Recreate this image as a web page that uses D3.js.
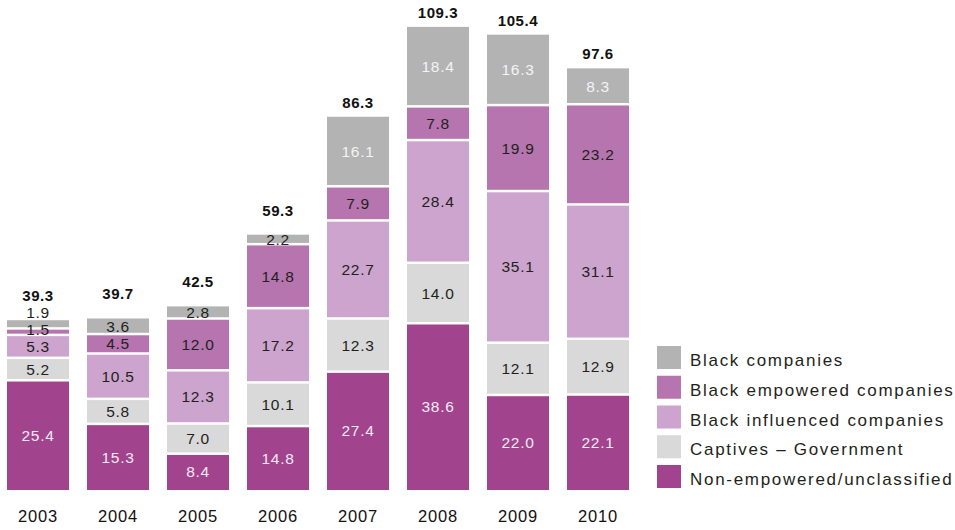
<!DOCTYPE html>
<html>
<head>
<meta charset="utf-8">
<script src="https://cdn.jsdelivr.net/npm/d3@7"></script>
<style>
  html, body { margin: 0; padding: 0; background: #ffffff; }
  svg { display: block; }
  text { font-family: "Liberation Sans", Arial, Helvetica, sans-serif; }
</style>
</head>
<body>
<svg id="chart" width="955" height="530"></svg>
<script>
// Procurement spend by supplier type, 2003-2010
const years        = ["2003", "2004", "2005", "2006", "2007", "2008", "2009", "2010"];
const nonEmpowered = [25.4, 15.3, 8.4, 14.8, 27.4, 38.6, 22.0, 22.1];
const captives     = [5.2, 5.8, 7.0, 10.1, 12.3, 14.0, 12.1, 12.9];
const influenced   = [5.3, 10.5, 12.3, 17.2, 22.7, 28.4, 35.1, 31.1];
const empowered    = [1.5, 4.5, 12.0, 14.8, 7.9, 7.8, 19.9, 23.2];
const blackOwned   = [1.9, 3.6, 2.8, 2.2, 16.1, 18.4, 16.3, 8.3];
const totals       = [39.3, 39.7, 42.5, 59.3, 86.3, 109.3, 105.4, 97.6];

const seriesNames = [
  "Non-empowered/unclassified",
  "Captives \u2013 Government",
  "Black influenced companies",
  "Black empowered companies",
  "Black companies"
];
const seriesValues = [nonEmpowered, captives, influenced, empowered, blackOwned];

const keys = ["nonEmpowered", "captives", "influenced", "empowered", "blackOwned"];
const fills = {
  nonEmpowered: "#a1438d",
  captives:     "#d9d9d9",
  influenced:   "#cca4cd",
  empowered:    "#b675ae",
  blackOwned:   "#b3b3b3"
};
const labelInk = {
  nonEmpowered: "#f6eaf3",
  captives:     "#231f20",
  influenced:   "#231f20",
  empowered:    "#231f20",
  blackOwned:   "#231f20"
};

const rows = years.map((y, i) => {
  const r = { year: y, total: totals[i] };
  keys.forEach((k, j) => { r[k] = seriesValues[j][i]; });
  return r;
});

const svg = d3.select("#chart");

const baseY = 490;
const x = d3.scaleBand().domain(years).range([7, 629]).paddingInner(0.225).paddingOuter(0);
const y = d3.scaleLinear().domain([0, 110]).range([baseY, baseY - 110 * 4.32]);
const gap = 2.5;

const stacked = d3.stack().keys(keys)(rows);

// segments
stacked.forEach((layer, li) => {
  const key = layer.key;
  const g = svg.append("g").attr("class", "series-" + key);
  layer.forEach(d => {
    const top = y(d[1]) + (li === keys.length - 1 ? 0 : gap / 2);
    const bottom = y(d[0]) - (li === 0 ? 0 : gap / 2);
    g.append("rect")
      .attr("x", x(d.data.year))
      .attr("y", top)
      .attr("width", x.bandwidth())
      .attr("height", Math.max(0, bottom - top))
      .attr("fill", fills[key]);
  });
});

// segment value labels, nudged upward when thin segments crowd together
const minLabelGap = 17;
years.forEach((yr, i) => {
  let prevCenter = Infinity;
  stacked.forEach((layer, li) => {
    const d = layer[i];
    const key = layer.key;
    let c = (y(d[0]) + y(d[1])) / 2;
    if (prevCenter - c < minLabelGap) c = prevCenter - minLabelGap;
    prevCenter = c;
    const v = d[1] - d[0];
    let ink = labelInk[key];
    if (key === "blackOwned" && v > 5) ink = "#f4f4f4";
    svg.append("text")
      .attr("x", x(yr) + x.bandwidth() / 2)
      .attr("y", c)
      .attr("dy", "0.36em")
      .attr("text-anchor", "middle")
      .attr("font-size", 15.5)
      .attr("letter-spacing", 0.7)
      .attr("fill", ink)
      .text(d3.format(".1f")(v));
  });
});

// totals above each bar
rows.forEach((r, i) => {
  const top = y(stacked[keys.length - 1][i][1]);
  const lift = blackOwned[i] < 5 ? 19 : 9;
  svg.append("text")
    .attr("x", x(r.year) + x.bandwidth() / 2)
    .attr("y", top - lift)
    .attr("text-anchor", "middle")
    .attr("font-size", 15)
    .attr("font-weight", "bold")
    .attr("letter-spacing", 0.6)
    .attr("fill", "#111111")
    .text(d3.format(".1f")(r.total));
});

// year labels
const xAxis = svg.append("g").attr("transform", `translate(0,${baseY})`)
  .call(d3.axisBottom(x).tickSize(0).tickPadding(20));
xAxis.select(".domain").remove();
xAxis.selectAll("text")
  .attr("font-size", 16.5)
  .attr("letter-spacing", 0.8)
  .attr("fill", "#111111")
  .attr("font-family", "'Liberation Sans', Arial, sans-serif");

// legend
const legendOrder = keys.slice().reverse();
const legendNames = seriesNames.slice().reverse();
const legend = svg.append("g").attr("transform", "translate(657,346)");
legendOrder.forEach((k, i) => {
  const row = legend.append("g").attr("transform", `translate(0,${i * 29.75})`);
  row.append("rect").attr("width", 24).attr("height", 23).attr("fill", fills[k]);
  row.append("text")
    .attr("x", 33)
    .attr("y", 20)
    .attr("font-size", 17)
    .attr("letter-spacing", 1.7)
    .attr("fill", "#231f20")
    .text(legendNames[i]);
});
</script>
</body>
</html>
